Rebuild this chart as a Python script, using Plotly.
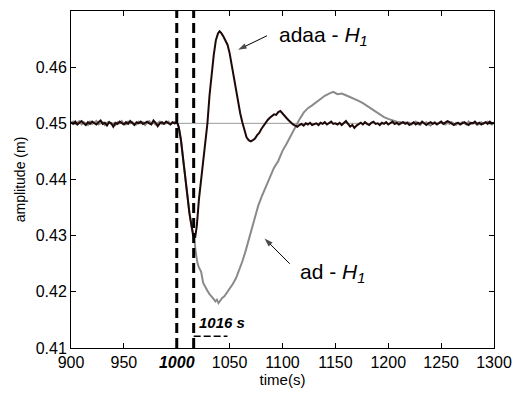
import plotly.graph_objects as go

# ---------------- data ----------------
base_times_pre = list(range(900, 1001, 2))
adaa_pre = [0.4502,0.4499,0.4503,0.4498,0.4501,0.4504,0.4500,0.4497,0.4502,0.4499,
            0.4503,0.4500,0.4498,0.4502,0.4505,0.4499,0.4501,0.4496,0.4502,0.4500,
            0.4494,0.4501,0.4499,0.4503,0.4500,0.4498,0.4502,0.4499,0.4504,0.4500,
            0.4497,0.4502,0.4500,0.4503,0.4499,0.4501,0.4503,0.4500,0.4498,0.4505,
            0.4501,0.4495,0.4500,0.4502,0.4499,0.4503,0.4501,0.4498,0.4502,0.4500,0.4501]
ad_pre = [0.4500,0.4503,0.4499,0.4501,0.4504,0.4498,0.4502,0.4500,0.4497,0.4503,
          0.4499,0.4501,0.4504,0.4498,0.4500,0.4502,0.4497,0.4501,0.4503,0.4499,
          0.4500,0.4497,0.4502,0.4500,0.4504,0.4499,0.4498,0.4503,0.4500,0.4502,
          0.4499,0.4498,0.4503,0.4500,0.4502,0.4497,0.4501,0.4504,0.4500,0.4502,
          0.4498,0.4500,0.4503,0.4499,0.4501,0.4500,0.4503,0.4499,0.4500,0.4502,0.4500]

adaa_resp_t = [1001, 1002, 1004, 1006, 1008, 1010, 1012, 1014, 1015.5, 1017.5, 1019, 1021, 1023,
               1025, 1027, 1029, 1031, 1033, 1035, 1037, 1039, 1040.5, 1042, 1044, 1046, 1048,
               1050, 1052, 1054, 1056, 1058, 1060, 1062, 1064, 1066, 1068, 1070, 1072, 1074,
               1076, 1078, 1080, 1082, 1084, 1086, 1088, 1090, 1092, 1094, 1096, 1098, 1100,
               1102, 1104, 1106, 1108, 1110]
adaa_resp_v = [0.4499, 0.4492, 0.4470, 0.4437, 0.4402, 0.4367, 0.4340, 0.4317, 0.4300, 0.4298,
               0.4318, 0.4365, 0.4398, 0.4430, 0.4462, 0.4500, 0.4550, 0.4590, 0.4622, 0.4648,
               0.4660, 0.4664, 0.4661, 0.4655, 0.4648, 0.4640, 0.4625, 0.4604, 0.4581, 0.4558,
               0.4536, 0.4518, 0.4502, 0.4487, 0.4475, 0.4470, 0.4468, 0.4470, 0.4473, 0.4479,
               0.4483, 0.4490, 0.4496, 0.4500, 0.4506, 0.4510, 0.4513, 0.4516, 0.4515, 0.4520,
               0.4522, 0.4517, 0.4513, 0.4509, 0.4505, 0.4501, 0.4498]

base_times_adaa_post = list(range(1112, 1301, 2))
adaa_post = [0.4496,0.4494,0.4497,0.4499,0.4496,0.4500,0.4498,0.4501,0.4497,0.4499,
             0.4500,0.4497,0.4501,0.4499,0.4502,0.4498,0.4500,0.4503,0.4499,0.4500,
             0.4498,0.4501,0.4497,0.4500,0.4504,0.4499,0.4494,0.4497,0.4492,0.4496,
             0.4499,0.4501,0.4498,0.4502,0.4499,0.4497,0.4501,0.4503,0.4499,0.4500,
             0.4497,0.4501,0.4499,0.4502,0.4498,0.4500,0.4503,0.4499,0.4501,0.4498,
             0.4500,0.4502,0.4499,0.4501,0.4497,0.4500,0.4502,0.4498,0.4501,0.4499,
             0.4503,0.4500,0.4497,0.4500,0.4502,0.4499,0.4501,0.4498,0.4500,0.4503,
             0.4499,0.4501,0.4504,0.4502,0.4499,0.4497,0.4500,0.4501,0.4498,0.4500,
             0.4502,0.4499,0.4497,0.4501,0.4500,0.4503,0.4499,0.4501,0.4498,0.4500,
             0.4502,0.4499,0.4503,0.4500,0.4501]

ad_resp_t = [1001, 1002, 1004, 1006, 1008, 1010, 1012, 1014, 1015.5, 1016.5, 1018, 1019.5, 1021,
             1023, 1025, 1027, 1029, 1031, 1033, 1035, 1036.5, 1038, 1039.5, 1041, 1043, 1045,
             1047, 1050, 1053, 1056, 1059, 1062, 1065, 1068, 1071, 1074, 1077, 1080, 1084,
             1088, 1092, 1096, 1100, 1104, 1108, 1112, 1116, 1120, 1124, 1128, 1132, 1136,
             1140, 1144, 1148, 1152, 1156, 1160, 1164, 1168, 1172, 1176, 1180, 1184, 1188,
             1192, 1196, 1200, 1204, 1208, 1212, 1216]
ad_resp_v = [0.4499, 0.4492, 0.4470, 0.4437, 0.4402, 0.4367, 0.4340, 0.4317, 0.4302, 0.4296,
             0.4270, 0.4252, 0.4243, 0.4236, 0.4216, 0.4208, 0.4202, 0.4196, 0.4192, 0.4187,
             0.4183, 0.4186, 0.4180, 0.4185, 0.4189, 0.4192, 0.4197, 0.4205, 0.4214, 0.4224,
             0.4238, 0.4254, 0.4272, 0.4293, 0.4314, 0.4334, 0.4353, 0.4368, 0.4385, 0.4403,
             0.4421, 0.4433, 0.4451, 0.4464, 0.4478, 0.4494, 0.4507, 0.4519, 0.4527, 0.4532,
             0.4538, 0.4543, 0.4549, 0.4553, 0.4556, 0.4552, 0.4553, 0.4550, 0.4547, 0.4543,
             0.4540, 0.4536, 0.4531, 0.4526, 0.4520, 0.4516, 0.4511, 0.4508, 0.4505, 0.4503,
             0.4502, 0.4501]

base_times_ad_post = list(range(1220, 1301, 2))
ad_post = [0.4501,0.4498,0.4500,0.4503,0.4499,0.4497,0.4501,0.4500,0.4502,0.4498,
           0.4496,0.4500,0.4502,0.4499,0.4501,0.4503,0.4500,0.4498,0.4501,0.4499,
           0.4502,0.4500,0.4497,0.4501,0.4499,0.4502,0.4500,0.4498,0.4503,0.4499,
           0.4501,0.4500,0.4497,0.4500,0.4502,0.4499,0.4501,0.4503,0.4500,0.4498,0.4501]

reference_level = 0.45
event_times = [1000, 1016]
delay_bar_x = [1016, 1048]
delay_bar_y = 0.4121

# arrows: [tail, head]
arrow_adaa_x = [1085.4, 1058.0]
arrow_adaa_y = [0.4656, 0.4631]
arrow_ad_x = [1106.9, 1083.0]
arrow_ad_y = [0.4250, 0.4295]
label_adaa_pos = (1094.6, 0.4656)
label_ad_pos = (1114.6, 0.4233)
label_delay_pos = (1019.2, 0.4146)

x_ticks = [900, 950, 1000, 1050, 1100, 1150, 1200, 1250, 1300]
x_tick_labels = ["900", "950", "<b><i>1000</i></b>", "1050", "1100", "1150", "1200", "1250", "1300"]
y_ticks = [0.41, 0.42, 0.43, 0.44, 0.45, 0.46]
y_tick_labels = ["0.41", "0.42", "0.43", "0.44", "0.45", "0.46"]
x_range = [900, 1300]
y_range = [0.41, 0.47]

# ---------------- figure ----------------
FONT = "Arial, Liberation Sans, sans-serif"
fig = go.Figure()

ad_t = base_times_pre + ad_resp_t + base_times_ad_post
ad_v = ad_pre + ad_resp_v + ad_post
adaa_t = base_times_pre + adaa_resp_t + base_times_adaa_post
adaa_v = adaa_pre + adaa_resp_v + adaa_post

fig.add_trace(go.Scatter(x=x_range, y=[reference_level, reference_level], mode="lines",
                         line=dict(color="#9a9a9a", width=1), showlegend=False, hoverinfo="skip"))
fig.add_trace(go.Scatter(x=ad_t, y=ad_v, mode="lines", name="ad - H1",
                         line=dict(color="#8a8a8a", width=2), showlegend=False))
fig.add_trace(go.Scatter(x=adaa_t, y=adaa_v, mode="lines", name="adaa - H1",
                         line=dict(color="#1e0808", width=2), showlegend=False))
for et in event_times:
    fig.add_trace(go.Scatter(x=[et, et], y=y_range, mode="lines",
                             line=dict(color="black", width=3, dash="10px,5px"),
                             showlegend=False, hoverinfo="skip"))
fig.add_trace(go.Scatter(x=delay_bar_x, y=[delay_bar_y, delay_bar_y], mode="lines",
                         line=dict(color="black", width=1.5, dash="7px,3px"),
                         showlegend=False, hoverinfo="skip"))

for ax_, ay_ in [(arrow_adaa_x, arrow_adaa_y), (arrow_ad_x, arrow_ad_y)]:
    fig.add_trace(go.Scatter(x=ax_, y=ay_, mode="lines+markers",
                             line=dict(color="black", width=1),
                             marker=dict(symbol="arrow", angleref="previous", size=[0, 9],
                                         color="black", line=dict(width=0)),
                             showlegend=False, hoverinfo="skip"))

fig.add_annotation(x=label_adaa_pos[0], y=label_adaa_pos[1], text="adaa - <i>H<sub>1</sub></i>",
                   showarrow=False, xanchor="left", yanchor="middle",
                   font=dict(family=FONT, size=21, color="black"))
fig.add_annotation(x=label_ad_pos[0], y=label_ad_pos[1], text="ad - <i>H<sub>1</sub></i>",
                   showarrow=False, xanchor="left", yanchor="middle",
                   font=dict(family=FONT, size=21, color="black"))
fig.add_annotation(x=label_delay_pos[0], y=label_delay_pos[1], text="<b><i>1016 s</i></b>",
                   showarrow=False, xanchor="left", yanchor="middle",
                   font=dict(family=FONT, size=15, color="black"))

axis_common = dict(showline=True, linecolor="black", linewidth=1, mirror="ticks",
                   ticks="inside", ticklen=5, tickcolor="black", showgrid=False, zeroline=False,
                   tickfont=dict(family=FONT, size=16, color="black"))
fig.update_xaxes(range=x_range, tickvals=x_ticks, ticktext=x_tick_labels,
                 title=dict(text="time(s)", font=dict(family=FONT, size=15, color="black"), standoff=2),
                 **axis_common)
fig.update_yaxes(range=y_range, tickvals=y_ticks, ticktext=y_tick_labels,
                 title=dict(text="amplitude (m)", font=dict(family=FONT, size=14, color="black"), standoff=6),
                 **axis_common)
fig.update_layout(width=522, height=394, margin=dict(l=71, r=18, t=10, b=42),
                  paper_bgcolor="white", plot_bgcolor="white", font=dict(family=FONT))

fig.write_html("out.html")
